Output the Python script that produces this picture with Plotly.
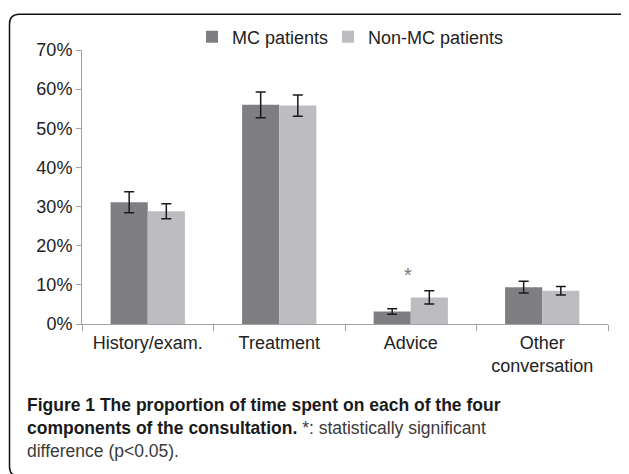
import plotly.graph_objects as go

categories = ["History/exam.", "Treatment", "Advice", "Other<br>conversation"]
mc_values = [0.311, 0.560, 0.032, 0.094]
mc_errors = [0.027, 0.033, 0.007, 0.015]
nonmc_values = [0.288, 0.558, 0.068, 0.085]
nonmc_errors = [0.019, 0.027, 0.017, 0.011]
series_names = ["MC patients", "Non-MC patients"]
y_ticks = [0, 0.1, 0.2, 0.3, 0.4, 0.5, 0.6, 0.7]
caption_bold = "Figure 1 The proportion of time spent on each of the four<br>components of the consultation."
caption_rest = " *: statistically significant<br>difference (p&lt;0.05)."

# page has an 8px body margin; positions below are given in screen pixels
OFF = 8
W, H = 629, 474
L, R, T, B = 74, 29, 41, 158
PW, PH = W - L - R, H - T - B

def px(x):
    return (x - OFF - L) / PW

def py(y):
    return (H - B - (y - OFF)) / PH

fig = go.Figure()
fig.add_trace(go.Bar(
    name=series_names[0], x=categories, y=mc_values, legend="legend",
    marker=dict(color="#7f7f83", line=dict(width=0)),
    error_y=dict(type="data", array=mc_errors, color="#1a1a1a", thickness=1.5, width=5),
))
fig.add_trace(go.Bar(
    name=series_names[1], x=categories, y=nonmc_values, legend="legend2",
    marker=dict(color="#bdbdc1", line=dict(width=0)),
    error_y=dict(type="data", array=nonmc_errors, color="#1a1a1a", thickness=1.5, width=5),
))

# rounded frame
x0, y0, x1, y1, r = 9.5, 13, 636, 477, 10
path = (
    f"M {px(x0+r)},{py(y0)} L {px(x1-r)},{py(y0)} Q {px(x1)},{py(y0)} {px(x1)},{py(y0+r)} "
    f"L {px(x1)},{py(y1-r)} Q {px(x1)},{py(y1)} {px(x1-r)},{py(y1)} "
    f"L {px(x0+r)},{py(y1)} Q {px(x0)},{py(y1)} {px(x0)},{py(y1-r)} "
    f"L {px(x0)},{py(y0+r)} Q {px(x0)},{py(y0)} {px(x0+r)},{py(y0)} Z"
)
fig.add_shape(type="path", path=path, xref="paper", yref="paper",
              line=dict(color="#111111", width=1.5), fillcolor="rgba(0,0,0,0)", layer="below")

fig.add_annotation(x=categories[2], y=0.126, xref="x", yref="y", text="*", showarrow=False,
                   xshift=-3, font=dict(size=20, color="#7a7a7a", family="Liberation Sans, Arial"))

fig.add_annotation(
    x=px(25), y=py(393), xref="paper", yref="paper", xanchor="left", yanchor="top",
    align="left", showarrow=False,
    text=f"<span style='color:#1a1a1a'><b>{caption_bold}</b></span><span style='color:#3a3a3a'>{caption_rest}</span>",
    font=dict(size=17.5, family="Liberation Sans, Arial", color="#1a1a1a"),
)

legend_common = dict(orientation="h", xanchor="left", y=py(37), yanchor="middle",
                     font=dict(size=18, color="#222222"), itemwidth=30,
                     bgcolor="rgba(0,0,0,0)")

fig.update_layout(
    width=W, height=H,
    margin=dict(l=L, r=R, t=T, b=B, pad=0),
    paper_bgcolor="white", plot_bgcolor="white",
    barmode="group", bargap=0.435, bargroupgap=0,
    font=dict(family="Liberation Sans, Arial", size=18, color="#222222"),
    showlegend=True,
    legend=dict(x=px(192), **legend_common),
    legend2=dict(x=px(328), **legend_common),
    xaxis=dict(showline=True, linecolor="#a0a0a0", linewidth=1, ticks="outside", tickson="boundaries",
               ticklen=6, tickcolor="#a0a0a0", showgrid=False, zeroline=False, ticklabelstandoff=2),
    yaxis=dict(range=[0, 0.7], tickvals=y_ticks, tickformat=".0%", showline=True, linecolor="#a0a0a0",
               linewidth=1, ticks="outside", ticklen=5, tickcolor="#a0a0a0", showgrid=False,
               zeroline=False),
)

fig.write_html("out.html")
